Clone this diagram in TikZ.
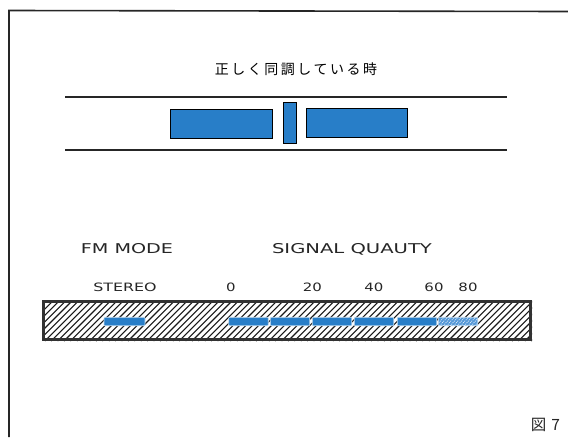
\documentclass[tikz,border=0pt]{standalone}
\usepackage{fontspec}
\usetikzlibrary{patterns}
\newfontfamily\cjkjp{Noto Sans CJK JP}
\newfontfamily\labfont{DejaVu Sans}
\definecolor{barblue}{RGB}{40,126,200}
\definecolor{lightbarblue}{RGB}{85,152,215}
\definecolor{framegray}{RGB}{50,50,50}
\tikzset{
  bluebar/.style={draw=black, line width=0.8pt, fill=barblue, inner sep=0pt},
  segbar/.style={draw=white!75!barblue, line width=0.6pt, fill=barblue, inner sep=0pt, minimum height=8.5pt, rounded corners=0.8pt},
  biglabel/.style={font=\fontsize{13.5}{14}\labfont, inner sep=0pt, text=black!85},
  smalllabel/.style={font=\fontsize{11.5}{12}\labfont, inner sep=0pt, text=black!85},
  rail/.style={line width=2pt, black!85},
}
\begin{document}
\begin{tikzpicture}[x=1pt,y=-1pt]
\useasboundingbox (0,0) rectangle (568,437);
\fill[white] (0,0) rectangle (568,437);
% frame
\draw[line width=1.6pt, black!85] (9,437) -- (9,10.5) -- (568,11.5);
% title
\node[inner sep=0pt, font=\fontsize{14}{15}\cjkjp\addfontfeature{LetterSpace=18}] (title) at (296,69) {正しく同調している時};
% rails
\coordinate (r1a) at (65,96.5);
\coordinate (r1b) at (507,96.5);
\coordinate (r2a) at (65,149.5);
\coordinate (r2b) at (507,149.5);
\draw[rail] (r1a) -- (r1b);
\draw[rail] (r2a) -- (r2b);
% tuning bars
\node[bluebar, minimum width=102pt, minimum height=29pt] (lbar) at (221,123.5) {};
\node[bluebar, minimum width=13pt, minimum height=41pt] (cbar) at (289.5,122.5) {};
\node[bluebar, minimum width=101pt, minimum height=29pt] (rbar) at (356.5,122.5) {};
% labels
\node[biglabel] (fmmode) at (127,249) {\scalebox{1.42}[1]{FM MODE}};
\node[biglabel] (sigq) at (352,249) {\scalebox{1.45}[1]{SIGNAL QUAUTY}};
\node[smalllabel] (stereo) at (125,287.5) {\scalebox{1.38}[1]{STEREO}};
\node[smalllabel] (n0) at (231,287.5) {\scalebox{1.3}[1]{0}};
\node[smalllabel] (n20) at (312.5,287.5) {\scalebox{1.3}[1]{20}};
\node[smalllabel] (n40) at (374,287.5) {\scalebox{1.3}[1]{40}};
\node[smalllabel] (n60) at (434,287.5) {\scalebox{1.3}[1]{60}};
\node[smalllabel] (n80) at (468,287.5) {\scalebox{1.3}[1]{80}};
% hatched display box
\begin{scope}
  \clip (42,300) rectangle (532,341);
  \foreach \k in {0,...,84} {
    \draw[line width=1.1pt, black!90] ({0+6.4*\k},341) -- ({41+6.4*\k},300);
  }
\end{scope}
\draw[line width=3.5pt, framegray] (43.5,301.5) rectangle (530.5,339.5);
% stereo indicator
\node[segbar, minimum width=41pt] (stbar) at (124.5,321.5) {};
% signal segments
\node[segbar, minimum width=39.5pt] (s1) at (248.5,321.5) {};
\node[segbar, minimum width=39.5pt] (s2) at (290,321.5) {};
\node[segbar, minimum width=39.5pt] (s3) at (332,321.5) {};
\node[segbar, minimum width=39.5pt] (s4) at (374,321.5) {};
\node[segbar, minimum width=39.5pt] (s5) at (417,321.5) {};
\node[segbar, minimum width=39.5pt, fill=lightbarblue] (s6) at (458,321.5) {};
\begin{scope}
  \clip ([xshift=1pt,yshift=1pt]s6.south west) rectangle ([xshift=-1pt,yshift=-1pt]s6.north east);
  \foreach \k in {0,...,12} {
    \draw[white!85!lightbarblue, line width=0.7pt, dash pattern=on 1pt off 1pt] ({436+3.5*\k},326) -- ({444+3.5*\k},317);
  }
\end{scope}
% figure number
\node[inner sep=0pt, font=\fontsize{15.5}{16}\cjkjp, text=black!85] (fig) at (545.5,425) {図\hspace{5pt}7};
\end{tikzpicture}
\end{document}
